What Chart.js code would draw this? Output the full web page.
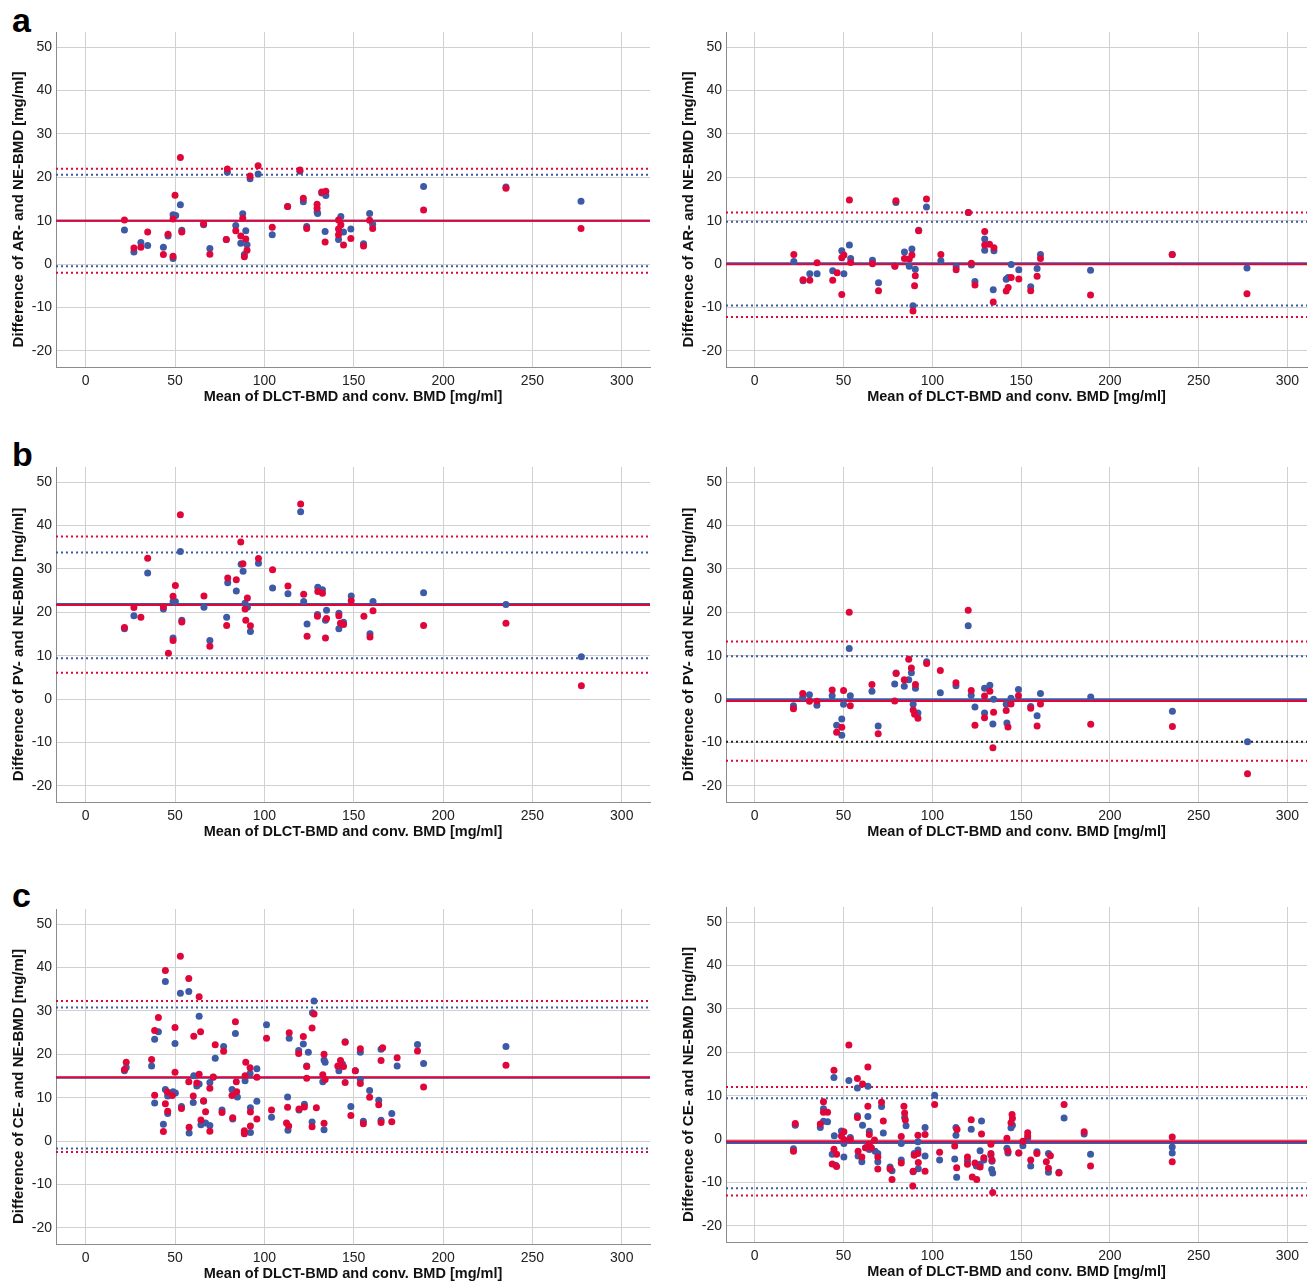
<!DOCTYPE html>
<html>
<head>
<meta charset="utf-8">
<script src="https://cdn.jsdelivr.net/npm/chart.js@4.4.1/dist/chart.umd.min.js"></script>
<style>
    body { margin: 0; background: #fff; width: 1311px; height: 1281px; overflow: hidden; position: relative; }
    canvas { position: absolute; }
    .tag { position: absolute; font: bold 34px "Liberation Sans", Arial, sans-serif; line-height: 34px; color: #000; }
</style>
</head>
<body>
<div class="tag" style="left:12px;top:3px">a</div>
<div class="tag" style="left:12px;top:437px">b</div>
<div class="tag" style="left:12px;top:878px">c</div>

<canvas id="aLeft" width="656" height="406" style="left:0;top:0"></canvas>
<canvas id="aRight" width="641" height="406" style="left:670px;top:0"></canvas>
<canvas id="bLeft" width="656" height="406" style="left:0;top:435px"></canvas>
<canvas id="bRight" width="641" height="406" style="left:670px;top:435px"></canvas>
<canvas id="cLeft" width="656" height="406" style="left:0;top:877px"></canvas>
<canvas id="cRight" width="641" height="406" style="left:670px;top:875px"></canvas>

<script>
/* Bland-Altman plots: blue and red comparison, [mean, difference] */
const xTicks = [0, 50, 100, 150, 200, 250, 300];
const yTicks = [-20, -10, 0, 10, 20, 30, 40, 50];
const xTitle = "Mean of DLCT-BMD and conv. BMD [mg/ml]";
const yTitles = [
    "Difference of AR- and NE-BMD [mg/ml]",
    "Difference of PV- and NE-BMD [mg/ml]",
    "Difference of CE- and NE-BMD [mg/ml]"
];

// mean, upper limit, lower limit
const aLeftBlueLines = [10.0, 20.6, -0.5];
const aLeftRedLines = [10.0, 22.0, -2.0];
const aRightBlueLines = [0.2, 9.8, -9.5];
const aRightRedLines = [0.0, 11.9, -12.2];
const bLeftBlueLines = [21.9, 33.8, 9.4];
const bLeftRedLines = [21.7, 37.5, 6.1];
const bRightBlueLines = [0.0, 9.9, -9.8];
const bRightRedLines = [-0.4, 13.3, -14.2];
const cLeftBlueLines = [14.6, 30.8, -1.7];
const cLeftRedLines = [14.7, 32.3, -2.5];
const cRightBlueLines = [-0.9, 9.4, -11.3];
const cRightRedLines = [-0.5, 12.0, -13.0];

const aLeftBlue = [[21.7,7.9],[27.0,2.8],[30.9,5.0],[34.7,4.3],[43.5,3.9],[46.1,6.5],[48.9,11.4],[50.4,11.2],[48.9,1.3],[53.0,13.7],[53.8,7.8],[66.0,9.1],[69.5,3.6],[79.3,21.2],[78.7,5.7],[84.0,8.9],[87.9,11.6],[86.8,4.8],[89.6,7.7],[90.3,4.5],[88.8,2.2],[92.0,19.7],[96.5,20.8],[104.4,6.8],[113.0,13.3],[119.9,21.4],[121.8,14.4],[123.7,8.7],[129.5,12.0],[129.8,11.7],[132.1,16.4],[134.4,15.8],[134.0,7.5],[142.8,11.0],[141.5,5.7],[144.3,7.4],[148.4,8.1],[155.5,4.7],[158.9,11.7],[160.6,9.2],[189.1,17.9],[235.2,17.8],[277.2,14.5]];
const aLeftRed = [[21.7,10.2],[27.0,3.7],[30.9,3.9],[34.7,7.4],[43.5,2.2],[46.1,6.9],[48.9,10.4],[50.0,15.9],[48.9,1.8],[53.0,24.6],[53.8,7.4],[66.0,9.3],[69.5,2.3],[79.3,21.9],[78.7,5.7],[84.0,7.7],[87.9,10.6],[86.8,6.5],[89.6,5.8],[90.3,3.2],[88.8,1.7],[92.0,20.3],[96.5,22.7],[104.4,8.5],[113.0,13.3],[119.9,21.7],[121.8,15.2],[123.7,8.2],[129.5,13.8],[129.5,12.9],[132.1,16.6],[134.4,16.8],[134.0,5.1],[142.8,9.1],[141.5,10.2],[141.5,8.1],[141.5,6.8],[144.3,4.4],[148.4,5.9],[155.5,4.2],[158.9,10.1],[160.6,8.2],[189.1,12.5],[235.2,17.5],[277.2,8.2]];

const aRightBlue = [[22.0,0.6],[27.2,-3.8],[31.0,-2.2],[35.1,-2.2],[43.9,-1.5],[49.0,3.1],[50.2,-2.2],[53.3,4.4],[54.0,1.3],[66.3,0.9],[69.7,-4.3],[79.5,14.2],[78.9,-0.4],[84.3,2.8],[87.0,-0.5],[88.5,3.5],[90.4,-1.2],[89.1,-9.6],[92.3,7.8],[96.7,13.2],[104.8,0.8],[113.4,-0.6],[120.3,11.9],[122.0,-0.2],[124.0,-4.0],[129.5,5.8],[129.5,3.2],[134.7,3.1],[134.3,-5.9],[141.6,-3.5],[142.7,-3.1],[144.4,-0.1],[148.7,-1.3],[155.4,-5.2],[159.0,-1.0],[160.9,2.2],[189.1,-1.4],[235.1,2.2],[277.2,-0.9]];
const aRightRed = [[22.0,2.2],[27.2,-3.6],[31.0,-3.7],[35.1,0.3],[43.9,-3.7],[46.4,-2.0],[49.0,1.5],[49.0,-7.0],[50.2,2.1],[53.3,14.8],[54.0,0.4],[66.3,0.1],[69.7,-6.1],[79.5,14.6],[78.9,-0.5],[84.3,1.3],[87.0,1.2],[88.5,2.1],[90.4,-2.7],[90.0,-5.0],[89.1,-10.8],[92.3,7.7],[96.7,15.0],[104.8,2.2],[113.4,-1.3],[120.3,11.9],[122.0,0.2],[124.0,-4.8],[129.5,7.5],[129.5,4.4],[132.2,4.6],[134.7,3.8],[134.3,-8.7],[141.6,-6.2],[142.7,-5.4],[144.4,-3.1],[148.7,-3.4],[155.4,-6.1],[159.0,-2.8],[160.9,1.3],[189.1,-7.1],[235.1,2.2],[277.2,-6.8]];

const bLeftBlue = [[21.7,16.2],[27.0,19.2],[34.7,29.1],[43.5,20.8],[48.9,22.5],[48.9,14.1],[50.2,22.5],[53.0,34.0],[53.8,18.2],[66.2,21.2],[69.5,13.5],[79.5,26.8],[78.9,18.9],[84.3,24.9],[87.0,31.1],[88.1,29.5],[89.2,22.1],[90.5,21.2],[92.2,15.6],[96.7,31.3],[104.6,25.6],[113.2,24.3],[122.0,22.5],[120.3,43.2],[123.9,17.3],[129.9,25.8],[132.5,25.2],[129.7,19.5],[134.8,20.5],[134.2,18.2],[141.7,19.8],[144.3,17.7],[141.7,16.2],[148.6,23.8],[159.1,15.1],[160.8,22.5],[189.1,24.5],[235.2,21.8],[277.4,9.8]];
const bLeftRed = [[21.7,16.5],[27.0,21.1],[30.9,18.9],[34.7,32.5],[43.5,21.3],[46.3,10.6],[48.9,23.7],[48.9,13.5],[50.2,26.2],[53.0,42.5],[53.8,17.8],[66.2,23.8],[69.5,12.2],[79.5,27.9],[78.9,17.0],[84.3,27.5],[86.8,36.2],[88.0,31.2],[89.2,20.8],[90.5,23.3],[89.6,18.2],[92.2,16.9],[96.7,32.4],[104.6,29.8],[113.2,26.1],[122.0,24.2],[120.3,45.0],[123.9,14.5],[129.9,24.8],[132.5,24.4],[129.7,19.1],[134.8,18.6],[134.2,14.1],[141.7,19.2],[142.6,17.5],[144.3,17.2],[148.6,22.7],[155.7,19.1],[159.1,14.3],[160.8,20.4],[189.1,17.0],[235.2,17.5],[277.4,3.1]];

const bRightBlue = [[21.8,-1.5],[27.0,0.4],[30.8,1.0],[35.0,-1.4],[43.6,0.8],[46.1,-6.0],[49.0,-4.6],[49.0,-8.3],[50.0,-1.2],[53.8,0.8],[53.2,11.7],[66.0,1.8],[69.5,-6.2],[79.6,6.0],[78.8,3.5],[84.2,3.0],[86.7,4.5],[88.2,6.1],[90.5,2.5],[89.2,-1.2],[91.9,-3.2],[96.8,8.6],[104.5,1.5],[113.3,3.1],[120.2,16.9],[121.9,0.9],[124.0,-1.8],[129.4,2.5],[129.4,-3.2],[132.4,3.2],[134.5,0.0],[134.1,-5.7],[141.6,-1.2],[142.0,-5.5],[144.3,0.2],[148.5,2.2],[155.4,-1.7],[159.0,-3.8],[160.9,1.3],[189.2,0.5],[235.2,-2.8],[277.5,-9.8]];
const bRightRed = [[21.8,-2.2],[27.0,1.3],[30.8,-0.5],[35.0,-0.5],[43.6,2.1],[46.1,-7.6],[49.0,-6.5],[50.0,2.0],[53.8,-1.5],[53.2,20.0],[66.0,3.4],[69.5,-8.0],[79.6,5.9],[78.8,-0.4],[84.2,4.5],[86.7,9.2],[88.2,7.2],[90.5,3.4],[89.2,-2.5],[90.0,-3.5],[91.9,-4.4],[96.8,8.2],[104.5,6.6],[113.3,3.8],[120.2,20.5],[121.9,2.0],[124.0,-6.0],[129.4,0.7],[129.4,-4.3],[132.4,1.8],[134.5,-3.0],[134.1,-11.2],[141.6,-2.6],[142.6,-6.4],[144.3,-1.1],[148.5,0.8],[155.4,-2.1],[159.0,-6.2],[160.9,-1.1],[189.2,-5.8],[235.2,-6.3],[277.5,-17.2]];

const cLeftBlue = [[21.7,16.2],[22.7,17.0],[36.9,17.3],[40.7,25.2],[38.6,23.5],[38.6,8.8],[44.6,36.8],[44.6,11.9],[45.9,10.4],[45.9,6.4],[43.5,3.9],[50.0,22.5],[48.9,11.4],[50.2,11.1],[53.0,34.1],[57.7,34.5],[53.6,8.0],[60.5,15.1],[63.5,28.8],[63.5,13.2],[62.2,12.7],[60.2,8.9],[57.9,1.9],[66.0,9.2],[64.5,3.8],[67.1,4.2],[69.5,3.6],[69.5,13.5],[71.4,14.7],[72.5,19.1],[77.2,21.8],[76.3,7.2],[82.3,5.1],[83.8,24.8],[81.9,11.9],[84.9,10.2],[92.0,15.6],[95.8,16.7],[89.2,13.9],[95.8,9.2],[92.2,7.7],[88.8,2.0],[92.2,2.0],[101.2,26.8],[104.0,5.5],[113.9,23.7],[113.0,10.2],[113.2,2.5],[121.8,22.4],[119.2,20.9],[124.6,20.5],[123.7,17.3],[119.4,7.2],[122.4,8.5],[127.8,32.3],[126.9,29.6],[126.7,4.4],[133.4,18.7],[134.0,18.2],[132.7,13.7],[133.4,2.6],[145.2,22.9],[141.7,16.2],[143.7,17.8],[148.4,8.0],[150.9,16.2],[153.7,20.5],[153.7,14.2],[158.9,11.7],[155.4,4.6],[164.0,9.4],[165.3,21.2],[165.3,4.8],[174.3,17.3],[171.3,6.4],[185.7,22.3],[189.1,17.9],[235.2,21.8]];
const cLeftRed = [[21.7,16.5],[22.7,18.2],[36.9,18.8],[38.6,25.5],[40.7,28.5],[38.6,10.6],[44.6,39.3],[45.7,11.3],[48.5,10.5],[44.6,8.6],[45.9,6.9],[43.5,2.2],[50.0,26.2],[50.0,15.9],[53.0,42.6],[57.7,37.5],[53.6,7.5],[60.5,24.2],[57.7,13.7],[63.5,33.3],[64.3,25.2],[63.5,15.4],[62.2,13.4],[60.2,10.4],[57.9,3.2],[66.0,9.3],[64.5,4.9],[67.1,6.8],[69.5,2.3],[69.5,12.2],[71.4,14.8],[72.5,22.2],[77.2,20.7],[76.3,6.6],[82.3,5.4],[83.8,27.5],[84.3,13.7],[81.9,10.5],[84.5,11.4],[89.6,18.2],[92.0,16.9],[89.2,15.1],[95.8,14.7],[92.2,6.7],[95.8,5.1],[88.8,2.4],[88.8,1.7],[92.2,3.5],[101.2,23.7],[104.0,7.2],[113.9,25.0],[113.0,7.8],[112.4,4.2],[113.6,3.5],[121.8,24.1],[119.2,20.2],[123.7,17.2],[123.7,14.5],[119.4,7.4],[122.4,7.9],[129.1,7.7],[127.8,29.3],[126.7,26.1],[126.7,3.3],[133.4,20.0],[132.7,15.3],[134.0,14.2],[133.4,4.1],[145.2,22.8],[142.6,18.6],[144.3,17.2],[141.1,17.3],[145.2,13.5],[148.4,5.9],[150.9,16.2],[153.7,21.3],[153.7,13.3],[158.9,10.1],[155.4,4.0],[164.0,8.4],[166.2,21.5],[165.3,18.6],[165.3,4.3],[174.3,19.2],[171.3,4.5],[185.7,20.8],[189.1,12.5],[235.2,17.5]];

const cRightBlue = [[22.8,3.2],[21.8,-2.2],[36.9,2.7],[38.7,7.0],[38.7,4.1],[41.0,4.0],[44.6,14.2],[44.8,0.8],[43.6,-3.5],[45.6,-6.0],[48.8,1.9],[50.2,-1.0],[50.2,-4.1],[53.0,13.5],[53.8,0.4],[57.8,11.8],[63.7,12.2],[57.8,5.4],[60.7,3.2],[63.7,5.2],[64.5,1.8],[58.2,-3.9],[60.3,-5.2],[62.4,-2.0],[64.5,-2.4],[67.8,-2.8],[69.3,-3.3],[69.3,-5.2],[71.4,7.5],[72.4,1.4],[76.2,-6.4],[77.3,-7.3],[84.4,5.0],[85.2,3.1],[82.5,-1.0],[82.5,-4.8],[91.9,-0.6],[91.9,-2.5],[89.8,-3.3],[92.1,-6.8],[89.2,-7.5],[95.9,2.7],[95.9,-3.9],[101.3,10.1],[104.1,-4.8],[113.3,2.7],[113.3,0.9],[112.6,-4.6],[113.7,-8.8],[121.9,2.3],[119.8,-5.0],[127.7,4.2],[126.9,-2.7],[124.8,-6.2],[126.9,-5.8],[129.0,-4.8],[133.0,-3.7],[133.6,-5.1],[133.4,-7.0],[134.0,-7.8],[142.0,-2.1],[142.6,-3.2],[144.3,2.6],[145.1,3.2],[148.7,-3.2],[151.0,-1.5],[153.7,0.2],[155.4,-6.2],[158.9,-2.9],[165.4,-3.3],[165.4,-7.6],[171.3,-7.6],[174.2,4.9],[185.5,1.2],[189.1,-3.5],[235.1,-1.8],[235.1,-3.2]];
const cRightRed = [[22.8,3.6],[21.8,-2.8],[36.9,3.5],[38.7,8.6],[38.7,6.2],[41.0,6.2],[44.6,15.9],[44.6,-2.3],[46.1,-3.5],[43.6,-5.7],[46.1,-6.3],[48.8,0.7],[50.2,1.7],[50.2,-0.1],[53.0,21.7],[53.8,-0.1],[57.8,14.0],[60.7,12.7],[63.7,16.6],[57.8,5.0],[63.7,7.6],[64.5,1.1],[58.2,-2.8],[60.3,-4.1],[62.4,-2.0],[64.5,-1.1],[65.7,-2.0],[67.4,-0.2],[69.3,-4.1],[69.3,-6.9],[71.4,8.5],[72.4,4.2],[76.2,-6.9],[77.3,-9.3],[84.0,7.6],[84.4,6.0],[84.8,4.4],[82.5,0.6],[82.5,-5.5],[91.9,0.9],[91.9,-3.3],[89.8,-3.7],[92.1,-5.4],[89.2,-7.4],[89.0,-10.8],[95.9,1.1],[95.9,-7.4],[101.3,8.0],[104.1,-3.0],[113.9,2.2],[112.6,-1.6],[113.7,-6.6],[121.9,4.5],[119.8,-4.1],[119.8,-5.8],[122.5,-8.7],[125.0,-9.3],[127.7,1.2],[124.0,-5.5],[126.9,-6.4],[129.0,-4.3],[133.0,-1.2],[133.0,-3.3],[133.6,-4.8],[134.0,-12.3],[142.0,0.2],[142.6,-2.8],[144.3,3.8],[144.9,5.7],[145.1,4.8],[148.7,-3.2],[151.0,-0.5],[153.7,1.5],[153.7,0.7],[155.4,-4.8],[158.9,-3.3],[164.2,-5.2],[166.5,-3.8],[165.4,-6.7],[171.3,-7.8],[174.2,8.0],[185.5,1.7],[189.1,-6.2],[235.1,0.5],[235.1,-5.2]];

const BLUE = "#3c5aa6";
const RED = "#e1063a";
const FONT = "'Liberation Sans', Arial, sans-serif";
const Y_MIN = -23.7, Y_MAX = 53.5;

function toPoints(pairs) {
    return pairs.map(p => ({ x: p[0], y: p[1] }));
}

function hLine(y, xMin, xMax, color, dashed, order) {
    return {
        type: "line",
        data: [{ x: xMin, y: y }, { x: xMax, y: y }],
        borderColor: color,
        borderWidth: 2,
        borderDash: dashed ? [2, 3] : [],
        pointRadius: 0,
        fill: false,
        order: order
    };
}

// vertical axis title, sitting a little below the middle of the plot like the original
const yTitlePlugin = {
    id: "yTitle",
    afterDraw(chart, args, opts) {
        const { ctx, chartArea } = chart;
        ctx.save();
        ctx.translate(18.5, (chartArea.top + chartArea.bottom) / 2 + 10);
        ctx.rotate(-Math.PI / 2);
        ctx.font = "bold 15px " + FONT;
        ctx.fillStyle = "#111";
        ctx.textAlign = "center";
        ctx.textBaseline = "middle";
        ctx.fillText(opts.text, 0, 0);
        ctx.restore();
    }
};

function makePlot(id, blue, red, blueLines, redLines, yTitle, xMin, xMax, padRight, lowerBlueColor) {
    const ctx = document.getElementById(id);
    const lines = [
        hLine(blueLines[0], xMin, xMax, BLUE, false, 6),
        hLine(blueLines[1], xMin, xMax, BLUE, true, 6),
        hLine(blueLines[2], xMin, xMax, lowerBlueColor || BLUE, true, 6),
        hLine(redLines[0], xMin, xMax, RED, false, 5),
        hLine(redLines[1], xMin, xMax, RED, true, 5),
        hLine(redLines[2], xMin, xMax, RED, true, 5)
    ];
    new Chart(ctx, {
        type: "scatter",
        data: {
            datasets: lines.concat([
                { data: toPoints(blue), backgroundColor: BLUE, borderWidth: 0, pointRadius: 3.5, order: 2 },
                { data: toPoints(red), backgroundColor: RED, borderWidth: 0, pointRadius: 3.5, order: 1 }
            ])
        },
        plugins: [yTitlePlugin],
        options: {
            responsive: false,
            animation: false,
            devicePixelRatio: 1,
            layout: { padding: { left: 8, top: 32, right: padRight, bottom: 0 } },
            plugins: {
                legend: { display: false },
                tooltip: { enabled: false },
                yTitle: { text: yTitle }
            },
            scales: {
                x: {
                    type: "linear",
                    min: xMin,
                    max: xMax,
                    afterBuildTicks: s => { s.ticks = xTicks.map(v => ({ value: v })); },
                    afterFit: s => { s.height = 39; },
                    grid: { color: "#d0d0d0", lineWidth: 1, drawTicks: false },
                    border: { color: "#8c8c8c", width: 1 },
                    ticks: { padding: 6, color: "#222", font: { family: FONT, size: 14 } },
                    title: { display: true, text: xTitle, color: "#111", padding: 0,
                             font: { family: FONT, size: 14.5, weight: "bold" } }
                },
                y: {
                    min: Y_MIN,
                    max: Y_MAX,
                    afterBuildTicks: s => { s.ticks = yTicks.map(v => ({ value: v })); },
                    afterFit: s => { s.width = 48; },
                    grid: { color: "#d0d0d0", lineWidth: 1, drawTicks: false },
                    border: { color: "#8c8c8c", width: 1 },
                    ticks: { padding: 4, color: "#222", font: { family: FONT, size: 14 } }
                }
            }
        }
    });
}

makePlot("aLeft", aLeftBlue, aLeftRed, aLeftBlueLines, aLeftRedLines, yTitles[0], -16.6, 315.8, 6);
makePlot("aRight", aRightBlue, aRightRed, aRightBlueLines, aRightRedLines, yTitles[0], -16.2, 311.0, 0);
makePlot("bLeft", bLeftBlue, bLeftRed, bLeftBlueLines, bLeftRedLines, yTitles[1], -16.6, 315.8, 6);
makePlot("bRight", bRightBlue, bRightRed, bRightBlueLines, bRightRedLines, yTitles[1], -16.2, 311.0, 0, "#222222");
makePlot("cLeft", cLeftBlue, cLeftRed, cLeftBlueLines, cLeftRedLines, yTitles[2], -16.6, 315.8, 6);
makePlot("cRight", cRightBlue, cRightRed, cRightBlueLines, cRightRedLines, yTitles[2], -16.2, 311.0, 0);
</script>
</body>
</html>
